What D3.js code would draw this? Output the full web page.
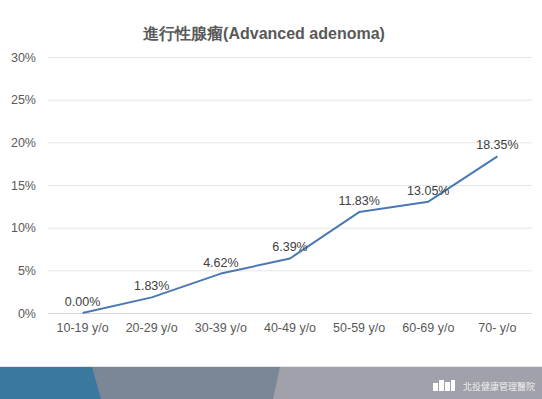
<!DOCTYPE html>
<html>
<head>
<meta charset="utf-8">
<script src="https://cdn.jsdelivr.net/npm/d3@7"></script>
<style>
  html, body { margin: 0; padding: 0; background: #fff; }
  svg { display: block; font-family: "Liberation Sans", Arial, sans-serif; }
</style>
</head>
<body>
<svg id="chart" width="542" height="399"></svg>
<script>
"use strict";

// данные графика
const categories = ["10-19 y/o", "20-29 y/o", "30-39 y/o", "40-49 y/o", "50-59 y/o", "60-69 y/o", "70- y/o"];
const rates = [0.00, 1.83, 4.62, 6.39, 11.83, 13.05, 18.35];
const yTicks = [0, 5, 10, 15, 20, 25, 30];
const title = "進行性腺瘤(Advanced adenoma)";
const footerName = "北投健康管理醫院";

const svg = d3.select("#chart");
const W = 542, H = 399;
const plot = { left: 48, right: 532, top: 57, bottom: 313 };

const x = d3.scaleBand().domain(categories).range([plot.left, plot.right]);
const y = d3.scaleLinear().domain([0, 30]).range([plot.bottom, plot.top]);
const cx = (c) => x(c) + x.bandwidth() / 2;

// заголовок
svg.append("text")
    .attr("x", 264).attr("y", 39)
    .attr("text-anchor", "middle")
    .attr("font-size", 16).attr("font-weight", "bold")
    .attr("fill", "#595959")
    .text(title);

// сетка
svg.append("g")
    .selectAll("line").data(yTicks).join("line")
    .attr("x1", plot.left).attr("x2", plot.right)
    .attr("y1", (d) => y(d) + 0.5).attr("y2", (d) => y(d) + 0.5)
    .attr("stroke", (d) => d === 0 ? "#d9d9d9" : "#e6e6e6").attr("stroke-width", 1);

// ось Y
const yAxis = svg.append("g")
    .attr("transform", `translate(${plot.left - 12},0)`)
    .call(d3.axisLeft(y).tickValues(yTicks).tickFormat((d) => d + "%").tickSize(0).tickPadding(0));
yAxis.select(".domain").remove();
yAxis.selectAll("text").attr("font-size", 12.5).attr("fill", "#595959")
    .attr("font-family", "Liberation Sans, Arial, sans-serif");

// ось X
const xAxis = svg.append("g")
    .attr("transform", `translate(0,${plot.bottom})`)
    .call(d3.axisBottom(x).tickSize(0).tickPadding(10));
xAxis.select(".domain").remove();
xAxis.selectAll("text").attr("font-size", 12.5).attr("fill", "#595959")
    .attr("font-family", "Liberation Sans, Arial, sans-serif");

// линия
const line = d3.line().x((d, i) => cx(categories[i])).y((d) => y(d));
svg.append("path")
    .datum(rates)
    .attr("d", line)
    .attr("fill", "none")
    .attr("stroke", "#4a78b4")
    .attr("stroke-width", 2)
    .attr("stroke-linejoin", "round");

// подписи значений
svg.append("g")
    .selectAll("text").data(rates).join("text")
    .attr("x", (d, i) => cx(categories[i]))
    .attr("y", (d) => y(d) - 7)
    .attr("text-anchor", "middle")
    .attr("font-size", 12.5).attr("fill", "#404040")
    .text((d) => d.toFixed(2) + "%");

// нижняя плашка
const footer = svg.append("g");
footer.append("rect").attr("x", 0).attr("y", 366).attr("width", W).attr("height", 1).attr("fill", "#e4e4e4");
footer.append("rect").attr("x", 0).attr("y", 367).attr("width", W).attr("height", H - 367).attr("fill", "#a0a1aa");
footer.append("polygon").attr("points", "0,367 280,367 273,399 0,399").attr("fill", "#7b8797");
footer.append("polygon").attr("points", "0,367 92,367 101,399 0,399").attr("fill", "#3b78a0");

// логотип
const logo = footer.append("g").attr("fill", "#fff");
[[433, 383, 5, 8], [439, 380, 5, 11], [445, 382, 5, 9], [451, 380, 4, 11]].forEach(([lx, ly, lw, lh]) => {
    logo.append("rect").attr("x", lx).attr("y", ly).attr("width", lw).attr("height", lh);
});
footer.append("text")
    .attr("x", 463).attr("y", 390)
    .attr("font-size", 9).attr("fill", "#eeeeee")
    .attr("font-family", "Noto Sans CJK TC, sans-serif")
    .text(footerName);
</script>
</body>
</html>
